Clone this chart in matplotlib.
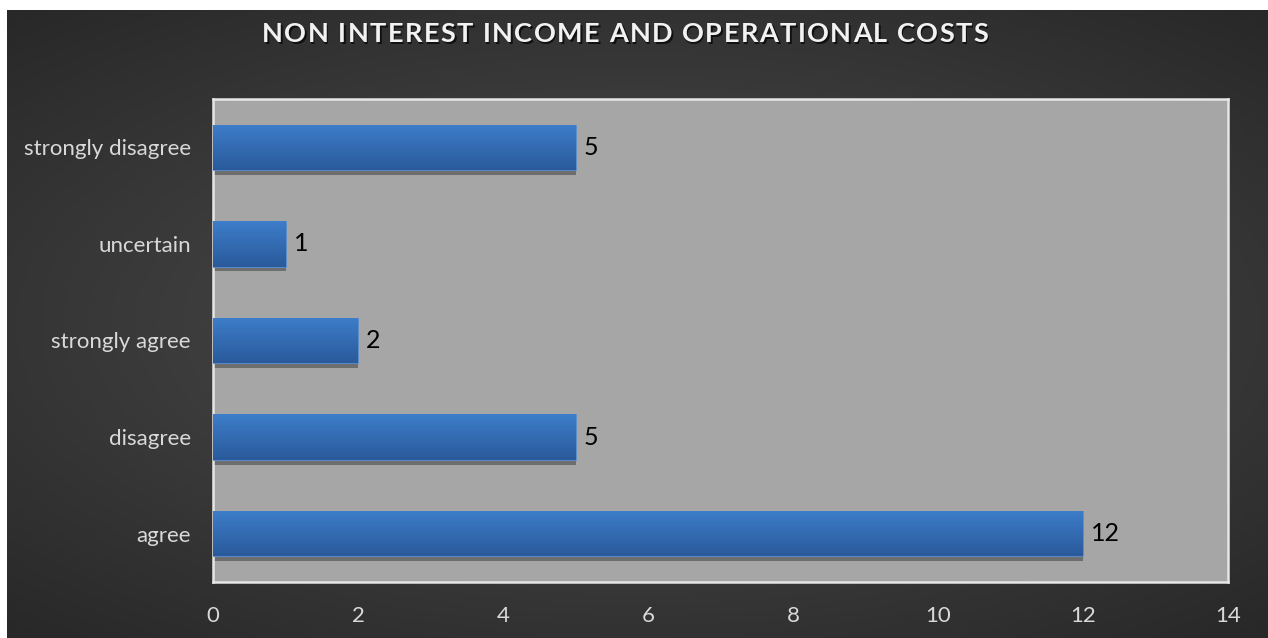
import numpy as np
import matplotlib.pyplot as plt

# data
categories = ['agree', 'disagree', 'strongly agree', 'uncertain', 'strongly disagree']
values = [12, 5, 2, 1, 5]
x_ticks = [0, 2, 4, 6, 8, 10, 12, 14]
title = 'NON INTEREST INCOME AND OPERATIONAL COSTS'

plt.rcParams['font.family'] = ['Lato', 'DejaVu Sans']

W, H = 1268, 638
fig = plt.figure(figsize=(W / 100, H / 100), dpi=100, facecolor='white')

# dark radial background (white margin on top and left)
bg = fig.add_axes([7 / W, 0, 1 - 7 / W, 628 / H])
bg.set_axis_off()
gx, gy = np.meshgrid(np.linspace(-1, 1, 400), np.linspace(-1, 1, 200))
r = np.clip(np.sqrt(gx ** 2 + (gy * 1.1) ** 2) / 1.45, 0, 1)
shade = 0.31 - 0.15 * r
bg.imshow(np.dstack([shade, shade, shade]), aspect='auto', extent=(0, 1, 0, 1))
bg.set_xlim(0, 1)
bg.set_ylim(0, 1)

ax = fig.add_axes([213 / W, 56 / H, 1015 / W, 483 / H])
ax.set_facecolor('#a6a6a6')

pos = np.arange(len(categories))
bar_h = 0.47

# shadow below bars
ax.barh(pos - 0.05, values, height=bar_h, color='#6e6e6e', zorder=2)
bars = ax.barh(pos, values, height=bar_h, color='#3470b8', edgecolor='#5a8fd0',
               linewidth=0.6, zorder=3)

grad = np.linspace(0, 1, 64).reshape(-1, 1)
top = np.array([0x3d, 0x7d, 0xca]) / 255
bot = np.array([0x2a, 0x5a, 0x9b]) / 255
grad_img = (bot + (top - bot) * grad[:, :, None] * np.ones((1, 1, 3))).reshape(64, 1, 3)
for b in bars:
    x0, y0 = b.get_x(), b.get_y()
    im = ax.imshow(grad_img, aspect='auto', origin='lower',
                   extent=(x0, x0 + b.get_width(), y0, y0 + b.get_height()), zorder=4)
    im.set_clip_path(b)

for p, v in zip(pos, values):
    ax.annotate(str(v), (v, p), xytext=(6, 0), textcoords='offset points',
                va='center', ha='left', fontsize=18, color='black', zorder=5)

ax.set_xlim(0, 14)
ax.set_ylim(-0.5, len(categories) - 0.5)
ax.set_xticks(x_ticks)
ax.set_xticklabels([str(t) for t in x_ticks])
ax.set_yticks(pos)
ax.set_yticklabels(categories)
ax.tick_params(axis='both', length=0, colors='#d9d9d9', labelsize=16)
ax.tick_params(axis='x', pad=17)
ax.tick_params(axis='y', pad=16)
for s in ax.spines.values():
    s.set_color('#e6e6e6')
    s.set_linewidth(1.8)

# title with letter spacing, drawn char by char
renderer = fig.canvas.get_renderer()
tkw = dict(fontsize=19.5, fontweight='bold', va='center', ha='left')
probe = fig.text(0, 0, title, **tkw)
full_w = probe.get_window_extent(renderer).width
probe.remove()
spacing = (726 - full_w) / (len(title) - 1)
x_start = 262
y_px = H - 34
for i, ch in enumerate(title):
    if ch == ' ':
        continue
    if i > 0:
        pre = fig.text(0, 0, title[:i] + ch, **tkw)
        one = fig.text(0, 0, ch, **tkw)
        off = pre.get_window_extent(renderer).width - one.get_window_extent(renderer).width
        pre.remove()
        one.remove()
    else:
        off = 0
    xp = x_start + off + i * spacing
    fig.text((xp + 1.5) / W, (y_px - 1.5) / H, ch, color='#111111', **tkw)
    fig.text(xp / W, y_px / H, ch, color='#f2f2f2', **tkw)

fig.savefig('out.png', dpi=100, facecolor='white')
